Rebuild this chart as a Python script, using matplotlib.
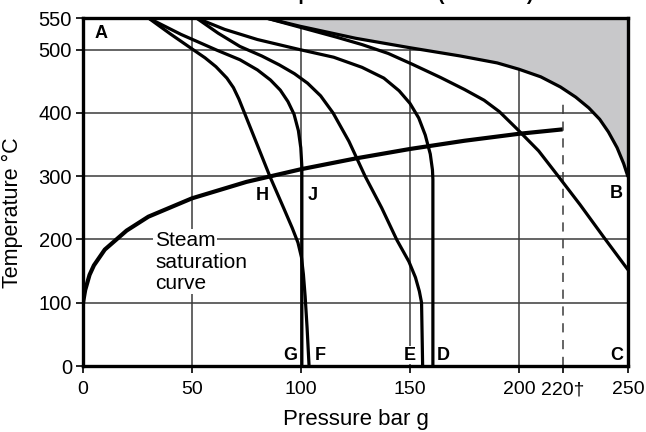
import matplotlib
matplotlib.use("Agg")
import matplotlib.pyplot as plt

plt.rcParams['font.family'] = ['Liberation Sans', 'DejaVu Sans']

# ---- data (bar g, °C) ----
sat_p = [0, 1, 3, 5, 10, 20, 30, 50, 75, 100, 125, 150, 175, 200, 220]
sat_t = [100, 120, 144, 159, 184, 214, 236, 265, 291, 311, 328, 343, 356, 367, 374]

H_p = [30, 40, 50.5, 56, 61, 66, 69, 71.5, 74.3, 80, 85.8, 92, 96, 98.6, 100.2, 101.1, 101.9, 102.8, 103.7]
H_t = [550, 525, 500, 487, 473, 455, 440, 422, 398, 349, 299, 250, 218, 195, 172, 145, 110, 60, 0]

J_p = [30, 45, 61.5, 72, 80, 86, 90.5, 94, 96.8, 98.8, 99.9, 100.4, 100.4]
J_t = [550, 524, 499, 484, 468, 452, 436, 418, 398, 372, 345, 315, 0]

E_p = [52, 62, 72, 82, 90, 97, 103, 109, 114.7, 122, 129.4, 137, 144, 149.5, 152.5, 154.3, 155.3, 155.8]
E_t = [550, 526, 505, 490, 476, 462, 447, 427, 400, 355, 300, 250, 199, 165, 140, 118, 100, 0]

D_p = [52, 65, 80, 99.5, 115, 128, 138, 145, 150, 154, 157, 159.3, 160.3, 160.5, 160.5]
D_t = [550, 532, 516, 500, 488, 472, 455, 435, 415, 392, 365, 335, 310, 295, 0]

C_p = [84, 100, 116, 128, 140, 151, 164, 175, 184, 191, 199, 209, 218, 228, 239, 250]
C_t = [550, 535, 520, 508, 494, 477, 456, 437, 420, 402, 375, 340, 300, 255, 203, 152]

B_p = [84, 99.5, 125, 150, 173, 190, 200, 210, 219, 226, 232, 237, 241, 245, 248, 250]
B_t = [550, 537, 518, 503, 490, 479, 469, 457, 441, 425, 408, 390, 370, 345, 320, 299]

x_ticks = [0, 50, 100, 150, 200, 220, 250]
x_labels = ['0', '50', '100', '150', '200', '220\u2020', '250']
y_ticks = [0, 100, 200, 300, 400, 500, 550]

letters = {'A': (8.3, 526), 'B': (244.8, 273), 'C': (244.8, 17), 'D': (165.3, 17),
           'E': (150, 17), 'F': (108.7, 17), 'G': (95, 17), 'H': (82, 270), 'J': (105.6, 270)}

fig = plt.figure(figsize=(6.46, 4.32), dpi=100)
ax = fig.add_axes([83/646, 1-366/432, (628-83)/646, (366-18)/432])
ax.set_xlim(0, 250)
ax.set_ylim(0, 550)

grid_c = '#3a3a3a'
for gx in [50, 100, 150, 200]:
    ax.axvline(gx, color=grid_c, lw=1.1, zorder=1)
for gy in [100, 200, 300, 400, 500]:
    ax.axhline(gy, color=grid_c, lw=1.1, zorder=1)
ax.plot([220, 220], [0, 423], color=grid_c, lw=1.1, dashes=(6, 5), zorder=1)

ax.fill_between(B_p, B_t, 550, color='#c8c8ca', lw=0, zorder=2)

lw = 2.3
for px_, pt_ in [(H_p, H_t), (J_p, J_t), (E_p, E_t), (D_p, D_t), (C_p, C_t), (B_p, B_t)]:
    ax.plot(px_, pt_, color='black', lw=lw, zorder=3, solid_capstyle='butt', solid_joinstyle='round')
ax.plot(sat_p, sat_t, color='black', lw=3.0, zorder=3, solid_capstyle='butt', solid_joinstyle='round')

for k, (x, y) in letters.items():
    ax.text(x, y, k, fontsize=13, fontweight='bold', ha='center', va='center', zorder=5,
            bbox=dict(facecolor='white', edgecolor='none', pad=0.5) if k in 'EG' else None)

for txt, ty in [('Steam', 199), ('saturation', 164), ('curve', 131)]:
    ax.text(33, ty, txt, fontsize=15, ha='left', va='center', zorder=4,
            bbox=dict(facecolor='white', edgecolor='none', pad=1))

for s in ax.spines.values():
    s.set_linewidth(2.4)
    s.set_zorder(6)

ax.set_xticks(x_ticks)
ax.set_xticklabels(x_labels, fontsize=14)
ax.set_yticks(y_ticks)
ax.set_yticklabels([str(v) for v in y_ticks], fontsize=14.5)
ax.tick_params(axis='both', length=5, width=1.2, direction='out')
ax.tick_params(axis='x', pad=6)
ax.tick_params(axis='y', pad=3)
ax.set_xlabel('Pressure bar g', fontsize=16, va='top')
ax.xaxis.set_label_coords(0.5, -0.125)
ax.set_ylabel('Temperature °C', fontsize=15.5)
ax.yaxis.set_label_coords(-0.11, 0.44)

fig.text(0.548, 1.0, 'Pressure/temperature limits (ISO 6552)', fontsize=14, fontweight='bold',
         ha='center', va='baseline', clip_on=False)

fig.savefig('out.png', dpi=100)
